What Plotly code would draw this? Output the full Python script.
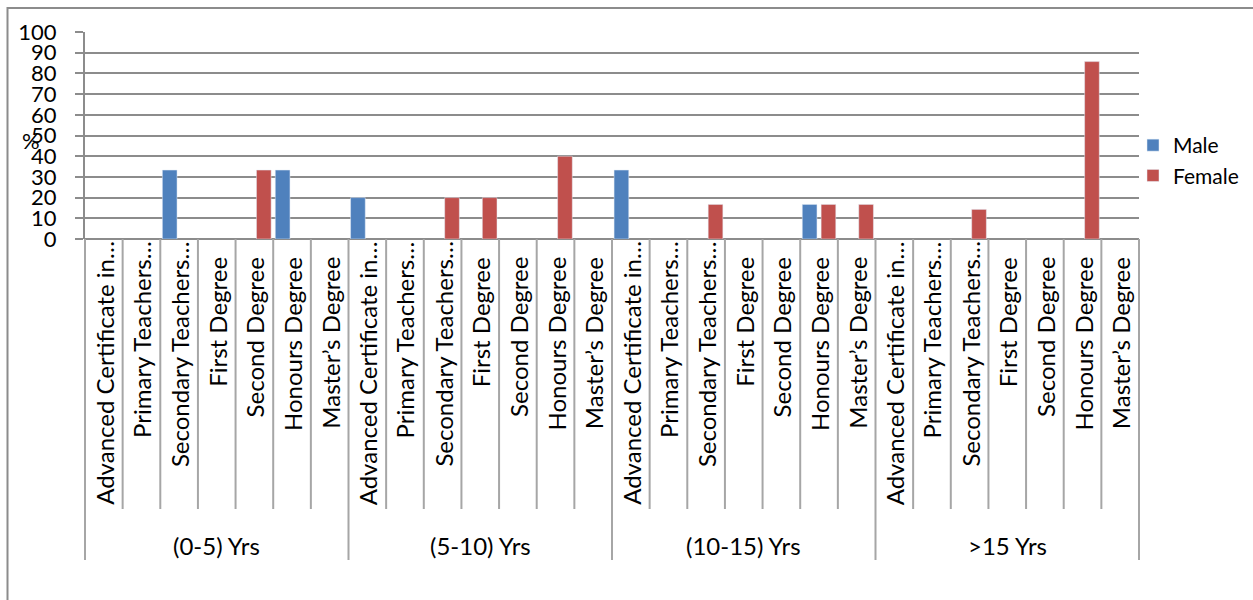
import plotly.graph_objects as go

# Experience bands (outer category level) and qualifications (inner level)
groups = ["(0-5) Yrs", "(5-10) Yrs", "(10-15) Yrs", ">15 Yrs"]
qualifications = [
    "Advanced Certificate in…",
    "Primary Teachers…",
    "Secondary Teachers…",
    "First Degree",
    "Second Degree",
    "Honours Degree",
    "Master’s Degree",
]

# Percentages per qualification, band after band
male = [0, 0, 33.3, 0, 0, 33.3, 0,
        20, 0, 0, 0, 0, 0, 0,
        33.3, 0, 0, 0, 0, 16.7, 0,
        0, 0, 0, 0, 0, 0, 0]
female = [0, 0, 0, 0, 33.3, 0, 0,
          0, 0, 20, 20, 0, 40, 0,
          0, 0, 16.7, 0, 0, 16.7, 16.7,
          0, 0, 14.3, 0, 0, 85.7, 0]

y_ticks = list(range(0, 101, 10))

W, H = 1253, 600
L, R, T, B = 85, 1139, 32, 239
FONT = "Lato"
FS = 24
GRID = "#8c8c8c"
DIV = "#a6a6a6"

n_q = len(qualifications)
n = n_q * len(groups)
positions = list(range(n))
inner_labels = [q for _ in groups for q in qualifications]


def py(pixel_y):
    """Pixel row -> paper y."""
    return (B - pixel_y) / (B - T)


def px(pixel_x):
    """Pixel column -> paper x."""
    return (pixel_x - L) / (R - L)


def nonzero(values):
    # empty cells get no bar at all
    return [v if v else None for v in values]


fig = go.Figure()
fig.add_trace(go.Bar(x=positions, y=nonzero(male), name="Male", marker_color="#4F81BD"))
fig.add_trace(go.Bar(x=positions, y=nonzero(female), name="Female", marker_color="#C0504D"))

shapes = []
# category dividers below the axis
for k in range(1, n):
    if k % n_q == 0:
        continue
    shapes.append(dict(type="line", xref="x", yref="paper", x0=k - 0.5, x1=k - 0.5,
                       y0=0, y1=py(509), line=dict(color=DIV, width=2)))
# band dividers, reaching below the band labels
for k in range(0, n + 1, n_q):
    xp = px(L + (R - L) * k / n)
    shapes.append(dict(type="line", xref="paper", yref="paper", x0=xp, x1=xp,
                       y0=0, y1=py(560), line=dict(color=DIV, width=2)))
# chart frame
shapes.append(dict(type="rect", xref="paper", yref="paper",
                   x0=px(7.5), x1=px(1262), y0=py(8), y1=py(610),
                   line=dict(color="#8c8c8c", width=2), fillcolor="rgba(0,0,0,0)",
                   layer="below"))

annotations = []
for i, lab in enumerate(inner_labels):
    top = 239 if lab.endswith("…") else 255
    annotations.append(dict(x=positions[i], xref="x", y=py(top), yref="paper",
                            text=lab, textangle=-90, showarrow=False,
                            xanchor="center", yanchor="top",
                            font=dict(family=FONT, size=FS, color="black")))
for g, name in enumerate(groups):
    annotations.append(dict(x=g * n_q + (n_q - 1) / 2, xref="x", y=py(545), yref="paper",
                            text=name, showarrow=False, xanchor="center", yanchor="middle",
                            font=dict(family=FONT, size=FS, color="black")))
annotations.append(dict(x=px(31), xref="paper", y=py(140), yref="paper", text="%",
                        showarrow=False, xanchor="center", yanchor="middle",
                        font=dict(family=FONT, size=22, color="black")))

fig.update_layout(
    width=W, height=H,
    margin=dict(l=L, r=W - R, t=T, b=H - B, autoexpand=False),
    paper_bgcolor="white", plot_bgcolor="white",
    barmode="group", bargap=0, bargroupgap=0.22,
    font=dict(family=FONT, size=FS, color="black"),
    showlegend=True,
    legend=dict(x=px(1133), y=py(125), xanchor="left", yanchor="top",
                font=dict(family=FONT, size=21, color="black"),
                itemwidth=30, tracegroupgap=0, bgcolor="rgba(0,0,0,0)"),
    shapes=shapes,
    annotations=annotations,
    xaxis=dict(range=[-0.5, n - 0.5], showticklabels=False, showgrid=False,
               zeroline=False, showline=False, ticks=""),
    yaxis=dict(range=[0, 100], tickvals=y_ticks, showgrid=True, gridcolor=GRID,
               gridwidth=2, zeroline=True, zerolinecolor=GRID, zerolinewidth=2,
               showline=True, linecolor=GRID, linewidth=2,
               ticks="outside", ticklen=8, tickcolor=GRID, tickwidth=2,
               ticklabelstandoff=14, tickfont=dict(family=FONT, size=22, color="black")),
)

fig.write_html("out.html")
